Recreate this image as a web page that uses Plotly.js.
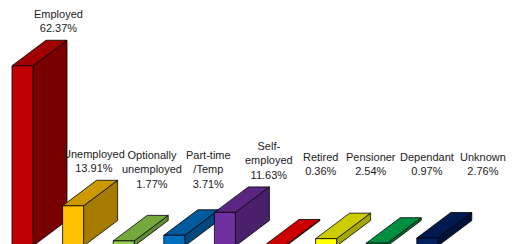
<!DOCTYPE html>
<html>
<head>
<meta charset="utf-8">
<script src="https://cdn.plot.ly/plotly-3.0.1.min.js"></script>
<style>html,body{margin:0;padding:0;background:#fff;}#chart{width:513px;height:244px;}</style>
</head>
<body>
<div id="chart"></div>
<script>
// ---- data ----
const categories = ["Employed","Unemployed","Optionally<br>unemployed","Part-time<br>/Temp","Self-<br>employed","Retired","Pensioner","Dependant","Unknown"];
const values = [62.37, 13.91, 1.77, 3.71, 11.63, 0.36, 2.54, 0.97, 2.76];
const valueLabels = ["62.37%","13.91%","1.77%","3.71%","11.63%","0.36%","2.54%","0.97%","2.76%"];

// ---- styling ----
const frontColors = ["#C00000","#FFC000","#92D050","#0070C0","#7030A0","#FF0000","#FFFF00","#00B050","#002060"];
const topColors   = ["#A00000","#CC9A00","#76A93C","#005A9C","#5A2682","#CC0000","#CCCC00","#008F40","#001A4F"];
const sideColors  = ["#7A0000","#A67C00","#5F8A30","#004A80","#4A1F6B","#A00000","#A6A600","#007030","#00133A"];
const labelShiftPx = [36, 21, 28, 34, 44, 45, 45, 50, 56];

const pxPerX = 50.6, pxPerY = 2.89, basePx = 246;
const halfW = 10.5 / pxPerX;
const depthX = 34 / pxPerX;
const depthY = 25.5 / pxPerY;

const traces = [];
const annotations = [];
values.forEach((v, i) => {
  const l = i - halfW, r = i + halfW;
  const edge = {color: "#000", width: 0.8};
  traces.push({type: "scatter", mode: "lines", fill: "toself", fillcolor: sideColors[i], line: edge,
    x: [r, r + depthX, r + depthX, r, r], y: [0, depthY, v + depthY, v, 0], hoverinfo: "skip", showlegend: false});
  traces.push({type: "scatter", mode: "lines", fill: "toself", fillcolor: topColors[i], line: edge,
    x: [l, r, r + depthX, l + depthX, l], y: [v, v, v + depthY, v + depthY, v], hoverinfo: "skip", showlegend: false});
  traces.push({type: "scatter", mode: "lines", fill: "toself", fillcolor: frontColors[i], line: edge,
    x: [l, l, r, r, l], y: [0, v, v, 0, 0], hoverinfo: "skip", showlegend: false});
  const text = categories[i] + "<br>" + valueLabels[i];
  const nLines = text.split("<br>").length;
  const backTopPx = basePx - (v + depthY) * pxPerY;
  const lastLinePx = Math.min(backTopPx - 11, 159 + 13 * (nLines - 1));
  const bottomPx = lastLinePx + 6;
  annotations.push({xref: "x", yref: "y", x: i, y: (basePx - bottomPx) / pxPerY, xshift: labelShiftPx[i],
    text: text, showarrow: false, xanchor: "center", yanchor: "bottom", borderpad: 0,
    align: "center", font: {family: "Liberation Sans, Arial, sans-serif", size: 11, color: "#222"}});
});

const layout = {
  width: 513, height: 244,
  margin: {l: 0, r: 0, t: 0, b: 0},
  paper_bgcolor: "#fff", plot_bgcolor: "#fff",
  showlegend: false,
  xaxis: {range: [-22.5 / pxPerX, (513 - 22.5) / pxPerX], visible: false, fixedrange: true},
  yaxis: {range: [(basePx - 244) / pxPerY, basePx / pxPerY], visible: false, fixedrange: true},
  annotations: annotations
};
Plotly.newPlot("chart", traces, layout, {staticPlot: true, displayModeBar: false});
</script>
</body>
</html>
